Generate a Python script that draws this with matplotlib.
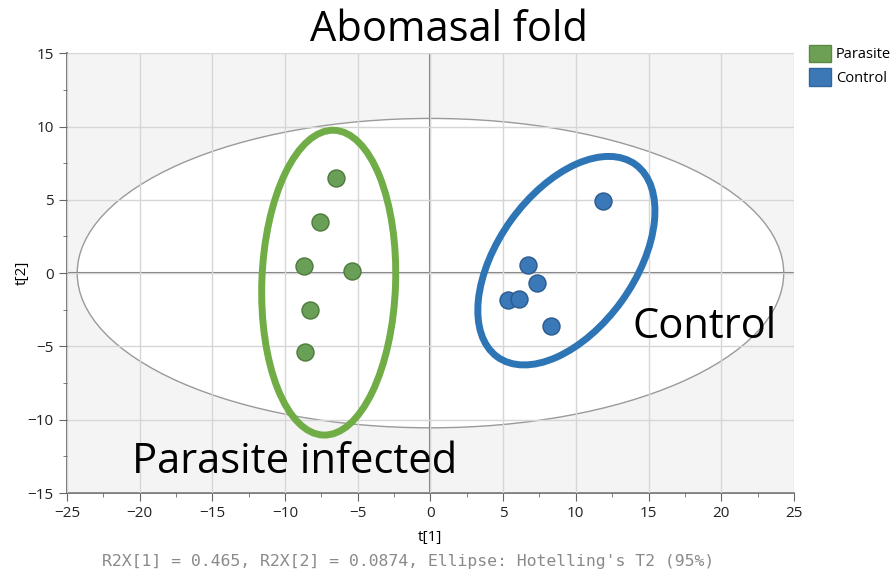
import numpy as np
import matplotlib.pyplot as plt
from matplotlib.patches import Ellipse, Patch

# score values
parasite_t1 = [-6.5, -7.6, -8.7, -5.4, -8.3, -8.6]
parasite_t2 = [6.5, 3.5, 0.5, 0.15, -2.5, -5.4]
control_t1 = [11.9, 6.7, 7.3, 5.3, 6.1, 8.3]
control_t2 = [4.9, 0.55, -0.65, -1.85, -1.75, -3.6]

title = "Abomasal fold"
footer = "R2X[1] = 0.465, R2X[2] = 0.0874, Ellipse: Hotelling's T2 (95%)"

plt.rcParams['font.family'] = ['Open Sans', 'DejaVu Sans']

fig = plt.figure(figsize=(8.94, 5.72), dpi=100)
ax = fig.add_axes([0.075, 0.138, 0.813, 0.769])
ax.set_facecolor('#f4f4f4')

ax.set_xlim(-25, 25)
ax.set_ylim(-15, 15)
ax.set_xticks(np.arange(-25, 26, 5))
ax.set_yticks(np.arange(-15, 16, 5))
ax.set_xticks(np.arange(-25, 26, 2.5), minor=True)
ax.set_yticks(np.arange(-15, 16, 2.5), minor=True)
ax.tick_params(which='major', length=6, color='#666666', labelsize=11, labelcolor='#222222')
ax.tick_params(which='minor', length=3, color='#666666')
for s in ['top', 'right']:
    ax.spines[s].set_visible(False)
for s in ['left', 'bottom']:
    ax.spines[s].set_color('#666666')
    ax.spines[s].set_linewidth(1.2)

# Hotelling T2 ellipse
ax.add_patch(Ellipse((0, 0), 48.6, 21.1, facecolor='white', edgecolor='#9a9a9a', lw=1, zorder=0.5))
ax.set_axisbelow(False)
ax.grid(True, which='major', color='#d6d6d6', lw=1, zorder=1)
ax.axhline(0, color='#777777', lw=1.5, zorder=1.5)
ax.axvline(0, color='#777777', lw=1.5, zorder=1.5)

ax.scatter(parasite_t1, parasite_t2, s=150, color='#6a9f58', edgecolors='#4c7a3c', lw=1, zorder=4)
ax.scatter(control_t1, control_t2, s=150, color='#3a78b8', edgecolors='#2a5a8e', lw=1, zorder=4)

# hand drawn group circles
ax.add_patch(Ellipse((-7.0, -0.65), 9.2, 20.8, angle=-2, fill=False, edgecolor='#70ad47', lw=5, zorder=3))
ax.add_patch(Ellipse((9.35, 0.85), 16.2, 9.4, angle=54, fill=False, edgecolor='#2e75b6', lw=5, zorder=3))

ax.text(-20.5, -13.6, "Parasite infected", fontsize=30, color='black', zorder=5)
ax.text(13.9, -4.4, "Control", fontsize=30, color='black', zorder=5)

fig.text(0.502, 0.948, title, fontsize=30, ha='center', va='center')
ax.set_xlabel("t[1]", fontsize=11, labelpad=6)
ax.xaxis.set_label_coords(0.5, -0.085)
ax.set_ylabel("t[2]", fontsize=11)
ax.yaxis.set_label_coords(-0.051, 0.5)

fig.text(0.457, 0.018, footer, fontsize=11.85, family='DejaVu Sans Mono', color='#8a8a8a', ha='center', va='center')

handles = [Patch(facecolor='#6da055', edgecolor='#5a8a46', label='Parasite'),
           Patch(facecolor='#3c78b6', edgecolor='#2f66a0', label='Control')]
fig.legend(handles=handles, loc='upper left', bbox_to_anchor=(0.905, 0.922), frameon=False,
           fontsize=10.5, handlelength=1.5, handleheight=1.5, handletextpad=0.35, labelspacing=0.4,
           borderaxespad=0, borderpad=0)

fig.savefig('out.png', dpi=100)
